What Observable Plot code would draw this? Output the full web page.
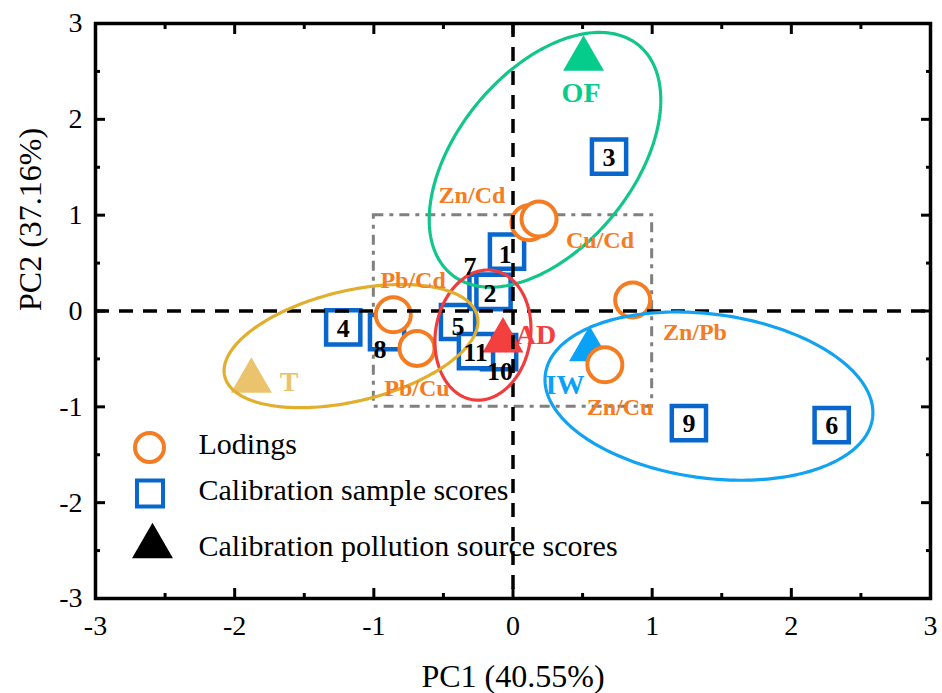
<!DOCTYPE html>
<html><head><meta charset="utf-8">
<script src="https://cdn.jsdelivr.net/npm/d3@7"></script>
<script src="https://cdn.jsdelivr.net/npm/@observablehq/plot@0.6"></script>
<style>body{margin:0;background:#fff}</style>
</head><body><div id="chart"></div>
<script>
// ---- Data ----
const majorTicks = [-3, -2, -1, 0, 1, 2, 3];
const minorTicks = [-2.5, -1.5, -0.5, 0.5, 1.5, 2.5];

// Loadings (ratios)
const loadingNames = ["Zn/Cd", "Cu/Cd", "Zn/Pb", "Pb/Cd", "Pb/Cu", "Zn/Cu"];
const loadingPC1 = [0.115, 0.187, 0.86, -0.86, -0.69, 0.66];
const loadingPC2 = [0.92, 0.96, 0.115, -0.04, -0.39, -0.56];
const loadingLabelPC1 = [-0.295, 0.625, 1.307, -0.718, -0.69, 0.769];
const loadingLabelPC2 = [1.212, 0.742, -0.219, 0.324, -0.805, -1.003];

// Calibration sample scores (in drawing order)
const sampleIds = ["1", "3", "4", "5", "6", "7", "2", "8", "9", "10", "11"];
const samplePC1 = [-0.043, 0.69, -1.22, -0.395, 2.29, -0.19, -0.14, -0.905, 1.264, -0.10, -0.266];
const samplePC2 = [0.62, 1.61, -0.17, -0.115, -1.19, 0.2, 0.2, -0.22, -1.17, -0.43, -0.418];
const sampleLabelPC1 = [-0.055, 0.69, -1.22, -0.395, 2.29, -0.309, -0.165, -0.955, 1.264, -0.093, -0.27];
const sampleLabelPC2 = [0.59, 1.6, -0.18, -0.16, -1.2, 0.46, 0.18, -0.408, -1.18, -0.637, -0.43];

// Pollution source scores
const sourceNames = ["OF", "AD", "IW", "T"];
const sourcePC1 = [0.507, -0.072, 0.55, -1.88];
const sourcePC2 = [2.63, -0.31, -0.40, -0.73];
const sourceLabelPC1 = [0.489, 0.165, 0.374, -1.609];
const sourceLabelPC2 = [2.278, -0.251, -0.773, -0.742];
const sourceColors = ["#06CC8B", "#F43F3F", "#0AA2F7", "#EBC36C"];

// Confidence ellipses per source
const ellipseCenterPC1 = [0.23, -0.216, 1.408, -1.164];
const ellipseCenterPC2 = [1.578, -0.251, -0.888, -0.366];
const ellipseSdPC1 = [0.832, 0.345, 1.178, 0.912];
const ellipseSdPC2 = [1.329, 0.679, 0.878, 0.643];
const ellipseCorr = [0.47, 0.1, -0.196, 0.4];
const ellipseColors = ["#12C68A", "#F03C3C", "#12A2F2", "#E2AE2E"];

const legendLabels = ["Lodings", "Calibration sample scores", "Calibration pollution source scores"];

// ---- Build tables ----
const loadings = loadingNames.map((n, i) => ({name: n, pc1: loadingPC1[i], pc2: loadingPC2[i], lx: loadingLabelPC1[i], ly: loadingLabelPC2[i]}));
const samples = sampleIds.map((n, i) => ({id: n, pc1: samplePC1[i], pc2: samplePC2[i], lx: sampleLabelPC1[i], ly: sampleLabelPC2[i]}));
const sources = sourceNames.map((n, i) => ({name: n, pc1: sourcePC1[i], pc2: sourcePC2[i], lx: sourceLabelPC1[i], ly: sourceLabelPC2[i], color: sourceColors[i]}));
const ellipsePoints = [];
sourceNames.forEach((g, i) => {
  const r = ellipseCorr[i];
  for (let k = 0; k <= 240; k++) {
    const t = 2 * Math.PI * k / 240;
    ellipsePoints.push({
      group: g, color: ellipseColors[i],
      pc1: ellipseCenterPC1[i] + ellipseSdPC1[i] * Math.cos(t),
      pc2: ellipseCenterPC2[i] + ellipseSdPC2[i] * (r * Math.cos(t) + Math.sqrt(1 - r * r) * Math.sin(t))
    });
  }
});

const orange = "#F47C22";
const blue = "#0866CC";
const serif = "Liberation Serif, Times New Roman, serif";

const chart = Plot.plot({
  width: 942, height: 693,
  marginLeft: 95, marginRight: 12, marginTop: 23, marginBottom: 95,
  x: {domain: [-3, 3], label: null},
  y: {domain: [-3, 3], label: null},
  color: {type: "identity"},
  style: {fontFamily: serif, background: "white", overflow: "visible"},
  marks: [
    Plot.rect([{x1: -1, x2: 1, y1: -1, y2: 1}], {x1: "x1", x2: "x2", y1: "y1", y2: "y2", fill: "none", stroke: "#808080", strokeWidth: 3, strokeDasharray: "10,6,4,6"}),
    Plot.dot(samples, {x: "pc1", y: "pc2", symbol: "square", r: 19.3, stroke: blue, strokeWidth: 4.5, fill: "white"}),
    Plot.dot(sources, {x: "pc1", y: "pc2", symbol: "triangle", r: 15.2, fill: "color", stroke: "none"}),
    Plot.dot(loadings, {x: "pc1", y: "pc2", r: 17.5, stroke: orange, strokeWidth: 4, fill: "white"}),
    Plot.ruleX([0], {stroke: "black", strokeWidth: 3.5, strokeDasharray: "14,10"}),
    Plot.ruleY([0], {stroke: "black", strokeWidth: 3.5, strokeDasharray: "14,10"}),
    Plot.line(ellipsePoints, {x: "pc1", y: "pc2", z: "group", stroke: "color", strokeWidth: 3.2, curve: "linear"}),
    Plot.text(loadings, {x: "lx", y: "ly", text: "name", fill: orange, fontWeight: "bold", fontSize: 24}),
    Plot.text(samples, {x: "lx", y: "ly", text: "id", fill: "black", fontWeight: "bold", fontSize: 26}),
    Plot.text(sources, {x: "lx", y: "ly", text: "name", fill: "color", fontWeight: "bold", fontSize: 28}),
    // legend
    Plot.dot([0], {frameAnchor: "bottom-left", dx: 54, dy: -151, r: 14.5, stroke: orange, strokeWidth: 4, fill: "white"}),
    Plot.dot([0], {frameAnchor: "bottom-left", dx: 54.5, dy: -105, r: 14.7, symbol: "square", stroke: blue, strokeWidth: 4, fill: "white"}),
    Plot.dot([0], {frameAnchor: "bottom-left", dx: 57, dy: -52, r: 15.2, symbol: "triangle", fill: "black", stroke: "none"}),
    Plot.text([legendLabels[0]], {frameAnchor: "bottom-left", dx: 103, dy: -145, textAnchor: "start", fontSize: 30, fill: "black"}),
    Plot.text([legendLabels[1]], {frameAnchor: "bottom-left", dx: 103, dy: -99, textAnchor: "start", fontSize: 30, fill: "black"}),
    Plot.text([legendLabels[2]], {frameAnchor: "bottom-left", dx: 103, dy: -43, textAnchor: "start", fontSize: 30, fill: "black"}),
    // axis titles
    Plot.text(["PC1 (40.55%)"], {frameAnchor: "bottom", dy: 88, fontSize: 32, fill: "black"}),
    Plot.text(["PC2 (37.16%)"], {frameAnchor: "left", dx: -65, rotate: -90, fontSize: 32, fill: "black"}),
    // axes
    Plot.axisX({ticks: majorTicks, anchor: "bottom", tickSize: -10, tickPadding: 27, strokeWidth: 3, fontSize: 28, tickFormat: d => String(d), label: null}),
    Plot.axisX({ticks: minorTicks, anchor: "bottom", tickSize: -5, strokeWidth: 3, tickFormat: () => "", label: null}),
    Plot.axisX({ticks: majorTicks, anchor: "top", tickSize: -10, strokeWidth: 3, tickFormat: () => "", label: null}),
    Plot.axisX({ticks: minorTicks, anchor: "top", tickSize: -5, strokeWidth: 3, tickFormat: () => "", label: null}),
    Plot.axisY({ticks: majorTicks, anchor: "left", tickSize: -10, tickPadding: 23, strokeWidth: 3, fontSize: 28, tickFormat: d => String(d), label: null}),
    Plot.axisY({ticks: minorTicks, anchor: "left", tickSize: -5, strokeWidth: 3, tickFormat: () => "", label: null}),
    Plot.axisY({ticks: majorTicks, anchor: "right", tickSize: -10, strokeWidth: 3, tickFormat: () => "", label: null}),
    Plot.axisY({ticks: minorTicks, anchor: "right", tickSize: -5, strokeWidth: 3, tickFormat: () => "", label: null}),
    Plot.frame({stroke: "black", strokeWidth: 3.5})
  ]
});
document.getElementById("chart").appendChild(chart);
</script>
</body></html>
